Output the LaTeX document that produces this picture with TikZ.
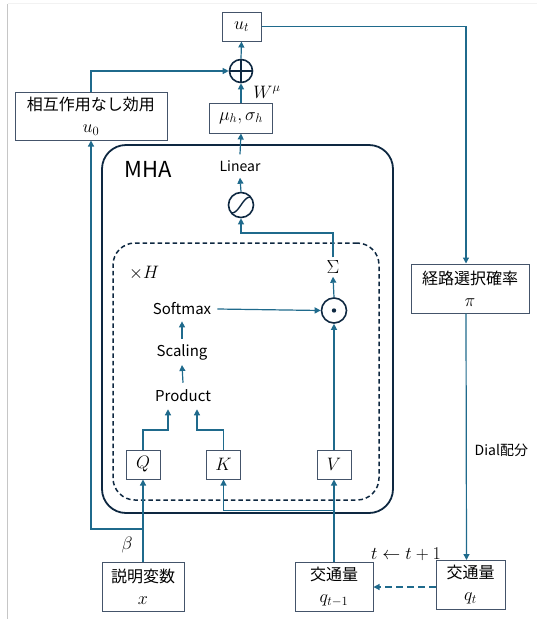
\RequirePackage{fix-cm}
\documentclass[tikz,border=0pt]{standalone}
\usepackage[no-math]{fontspec}
\setmainfont{Noto Sans CJK JP}
\usetikzlibrary{arrows.meta,calc}
\definecolor{arr}{HTML}{1F6A8C}
\definecolor{bord}{HTML}{44546A}
\definecolor{navy}{HTML}{0E2841}
\newcommand\mth[1]{{\fontsize{18}{23}\selectfont$#1$}}
\begin{document}
\begin{tikzpicture}[x=1pt,y=-1pt,
  conn/.style={draw=arr, line width=1.2pt, -{Triangle[length=6pt,width=6pt]}},
  box/.style={draw=bord, line width=1pt, fill=white, inner sep=1pt, align=center, font=\fontsize{16}{23}\selectfont},
  txt/.style={inner sep=5pt, font=\fontsize{15}{18}\selectfont},
  lbl/.style={inner sep=0pt, font=\fontsize{16}{19}\selectfont},
  op/.style={circle, draw=navy, line width=1.6pt, minimum size=24pt, inner sep=0pt, fill=white},
  opline/.style={draw=navy, line width=1.6pt}
]
\useasboundingbox (0,0) rectangle (537,619);
% frame remnants
\draw[gray!45, line width=1pt] (7.5,4) -- (7.5,619);
\draw[gray!10, line width=0.8pt] (8,3.5) -- (537,3.5);

% containers
\node[draw=navy, line width=1.8pt, rounded corners=24pt, minimum width=291pt, minimum height=368pt, inner sep=0pt] (mha) at (247.5,329) {};
\node[draw=navy, line width=1.5pt, dash pattern=on 4.5pt off 3pt, rounded corners=22pt, minimum width=266pt, minimum height=257pt, inner sep=0pt] (heads) at (246,371.5) {};
\node[lbl, font=\fontsize{22}{26}\selectfont] (mhalbl) at (148,169) {MHA};
\node[lbl] (xh) at (144,273) {\mth{\times H}};

% boxes
\node[box, minimum width=39pt, minimum height=29pt] (ut) at (241.5,26.5) {\mth{u_t}};
\node[box, minimum width=63pt, minimum height=30pt] (mu) at (241,118) {\mth{\mu_h,\sigma_h}};
\node[box, minimum width=152pt, minimum height=48pt] (u0) at (91,116) {相互作用なし効用\\[-1pt]\mth{u_0}};
\node[box, minimum width=34pt, minimum height=29pt] (Q) at (143,464.5) {\mth{Q}};
\node[box, minimum width=34pt, minimum height=29pt] (K) at (223.5,464.5) {\mth{K}};
\node[box, minimum width=34pt, minimum height=29pt] (V) at (334,464.5) {\mth{V}};
\node[box, minimum width=82pt, minimum height=49pt] (xb) at (143,587) {説明変数\\[-1pt]\mth{x}};
\node[box, minimum width=78pt, minimum height=49pt] (qtm) at (334,587) {交通量\\[-1pt]\mth{q_{t-1}}};
\node[box, minimum width=69pt, minimum height=49pt] (qt) at (470.5,585) {交通量\\[-1pt]\mth{q_t}};
\node[box, minimum width=118pt, minimum height=49pt] (route) at (470,288.5) {経路選択確率\\[-1pt]\mth{\pi}};

% operators
\node[op, minimum size=23pt] (oplus) at (241,71) {};
\draw[opline] (oplus.north) -- (oplus.south) (oplus.west) -- (oplus.east);
\node[op, minimum size=25pt] (sig) at (241,205) {};
\draw[opline, line width=1.4pt] ($(sig.center)+(-9,8)$) .. controls +(7,0) and +(-7,0) .. ($(sig.center)+(9,-8)$);
\node[op, minimum size=25pt] (odot) at (334,310.5) {};
\fill[navy] (odot.center) circle (2.2pt);

% text nodes
\node[txt, font=\fontsize{14}{17}\selectfont, inner sep=6pt] (linear) at (240,166) {Linear};
\node[txt, font=\fontsize{19}{23}\selectfont, inner sep=3pt] (sigma) at (333,267) {$\Sigma$};
\node[txt, inner sep=6pt] (softmax) at (182,309) {Softmax};
\node[txt, inner sep=5pt] (scaling) at (182,352) {Scaling};
\node[txt, inner sep=7pt] (product) at (183,396) {Product};

% labels
\node[lbl] (wmu) at (267,92) {\mth{W^{\mu}}};
\node[lbl] (beta) at (127,545) {\mth{\beta}};
\node[lbl] (tstep) at (406,554) {\mth{t\leftarrow t+1}};
\node[lbl, anchor=west, font=\fontsize{14}{17}\selectfont] (dial) at (474.5,450.5) {Dial配分};

% coordinates
\coordinate (sj) at (333,233);
\coordinate (pq) at (168,430);
\coordinate (pk) at (197,430);
\coordinate (bj) at (143,529);
\coordinate (kj) at (334,510.5);

% connectors
\draw[conn] (ut.east) -| ([xshift=-4pt]route.north);
\draw[conn] (oplus.north) -- (ut.south);
\draw[conn] (mu.north) -- (oplus.south);
\draw[conn] (u0.north) |- (oplus.west);
\draw[conn] (linear.north) -- (mu.south);
\draw[conn] (sig.north) -- (linear.south);
\draw[conn] (sigma.north) |- (sj) -| (sig.south);
\draw[conn] (odot.north) -- (sigma.south);
\draw[conn] (softmax.east) -- (odot.west);
\draw[conn] (scaling.north) -- (softmax.south);
\draw[conn] (product.north) -- (scaling.south);
\draw[conn] (Q.north) |- (pq) -- (product.south -| pq);
\draw[conn] (K.north) |- (pk) -- (product.south -| pk);
\draw[conn] (V.north) -- (odot.south);
\draw[conn] (xb.north) -- (Q.south);
\draw[conn] (bj) -| (u0.south);
\draw[conn] (qtm.north) -- (V.south);
\draw[conn] (kj) -| (K.south);
\draw[conn] ([xshift=-4pt]route.south) -- ([xshift=-4pt]qt.north);
\draw[conn, dash pattern=on 7pt off 4pt] (qt.west |- qtm.east) -- (qtm.east);
\end{tikzpicture}
\end{document}
